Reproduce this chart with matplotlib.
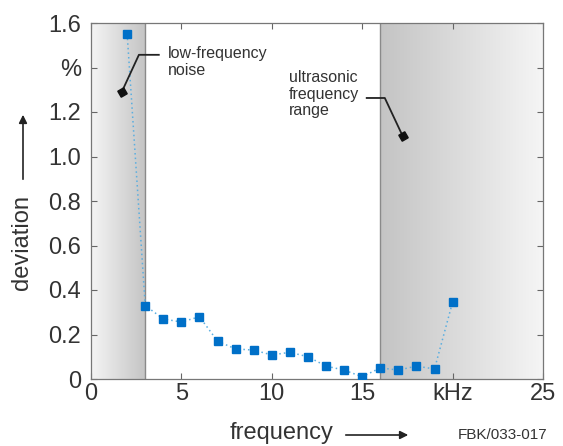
import numpy as np
import matplotlib
matplotlib.use("Agg")
import matplotlib.pyplot as plt
from matplotlib.colors import LinearSegmentedColormap
from matplotlib.patches import FancyArrowPatch

plt.rcParams['font.family'] = ['Liberation Sans', 'DejaVu Sans']

# data
freq_khz = [2, 3, 4, 5, 6, 7, 8, 9, 10, 11, 12, 13, 14, 15, 16, 17, 18, 19, 20]
deviation = [1.55, 0.33, 0.27, 0.256, 0.28, 0.17, 0.135, 0.13, 0.108, 0.12,
             0.10, 0.058, 0.04, 0.01, 0.05, 0.04, 0.058, 0.045, 0.346]
x_ticks = [0, 5, 10, 15, 20, 25]
x_labels = ['0', '5', '10', '15', 'kHz', '25']
y_ticks = [0, 0.2, 0.4, 0.6, 0.8, 1.0, 1.2, 1.4, 1.6]
y_labels = ['0', '0.2', '0.4', '0.6', '0.8', '1.0', '1.2', '%', '1.6']
low_band = (0, 3)
ultra_band = (16, 25)

fig = plt.figure(figsize=(5.63, 4.46), dpi=100)
ax = fig.add_axes([91 / 563, 1 - 379 / 446, 452 / 563, 356 / 446])

ymin, ymax = 0, 1.6
grad = np.linspace(0, 1, 256).reshape(1, -1)
cmap = LinearSegmentedColormap.from_list('g', ['#f5f5f5', '#c4c4c4'])
ax.imshow(grad, extent=[low_band[0], low_band[1], ymin, ymax], aspect='auto',
          cmap=cmap, zorder=0)
ax.imshow(grad[:, ::-1], extent=[ultra_band[0], ultra_band[1], ymin, ymax],
          aspect='auto', cmap=cmap, zorder=0)
ax.axvline(low_band[1], color='#8a8a8a', lw=1, zorder=1)
ax.axvline(ultra_band[0], color='#8a8a8a', lw=1, zorder=1)

ax.plot(freq_khz, deviation, ls=(0, (1, 2)), color='#5aaee0', lw=1.1, zorder=2)
ax.plot(freq_khz, deviation, ls='none', marker='s', ms=5.3, color='#0070c8',
        zorder=3)

ax.set_xlim(0, 25)
ax.set_ylim(ymin, ymax)
ax.set_xticks(x_ticks)
ax.set_xticklabels(x_labels)
ax.set_yticks(y_ticks)
ax.set_yticklabels(y_labels)
ax.tick_params(direction='in', length=4, width=0.8, color='#666666',
               labelsize=17, labelcolor='#333333', top=True, right=True)
ax.tick_params(axis='y', pad=7)
ax.tick_params(axis='x', pad=3)
for s in ax.spines.values():
    s.set_color('#777777')
    s.set_linewidth(0.9)

# callouts
ax.plot([3.75, 2.65, 1.7], [1.457, 1.457, 1.29], color='#222222', lw=1.3,
        zorder=4)
ax.plot([1.7], [1.29], marker=(4, 0, -15), ms=7, color='#111111', zorder=5)
ax.text(4.25, 1.425, 'low-frequency\nnoise', fontsize=11.5, color='#333333',
        va='center', ha='left', linespacing=1.2)

ax.plot([15.25, 16.25, 17.25], [1.263, 1.263, 1.09], color='#222222', lw=1.3,
        zorder=4)
ax.plot([17.25], [1.09], marker=(4, 0, -15), ms=7, color='#111111', zorder=5)
ax.text(10.95, 1.28, 'ultrasonic\nfrequency\nrange', fontsize=11.5,
        color='#333333', va='center', ha='left', linespacing=1.1)

# axis labels with arrows
fig.text(22 / 563, 1 - 242 / 446, 'deviation', rotation=90, fontsize=17,
         color='#333333', ha='center', va='center')
fig.patches.append(FancyArrowPatch(
    (23 / 563, 1 - 182 / 446), (23 / 563, 1 - 112 / 446),
    transform=fig.transFigure, arrowstyle='-|>', mutation_scale=12,
    color='#222222', lw=1.2))
fig.text(282 / 563, 1 - 433 / 446, 'frequency', fontsize=17,
         color='#333333', ha='center', va='center')
fig.patches.append(FancyArrowPatch(
    (343 / 563, 1 - 435 / 446), (411 / 563, 1 - 435 / 446),
    transform=fig.transFigure, arrowstyle='-|>', mutation_scale=12,
    color='#222222', lw=1.2))
fig.text(503 / 563, 1 - 435 / 446, 'FBK/033-017', fontsize=11,
         color='#333333', ha='center', va='center')

fig.savefig('out.png', dpi=100)
